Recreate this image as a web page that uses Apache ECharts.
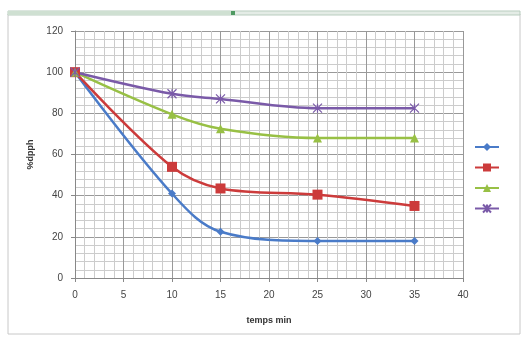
<!DOCTYPE html>
<html><head><meta charset="utf-8">
<script src="https://cdn.jsdelivr.net/npm/echarts@6/dist/echarts.min.js"></script>
<style>html,body{margin:0;padding:0;background:#fff}#c{width:528px;height:344px}</style>
</head><body><div id="c"></div>
<script>
const times = [0, 10, 15, 25, 35];
const serieBlue = [100, 41, 22.5, 18, 18];
const serieRed = [100, 54, 43.5, 40.5, 35];
const serieGreen = [100, 79.5, 72.5, 68, 68];
const seriePurple = [100, 89.5, 87, 82.5, 82.5];
const xTicks = [0, 5, 10, 15, 20, 25, 30, 35, 40];
const yTicks = [0, 20, 40, 60, 80, 100, 120];

const pair = arr => times.map((t, i) => [t, arr[i]]);
const crossPath = 'path://M0,0 L10,10 M10,0 L0,10 M5,0 L5,10';
const font = 'Liberation Sans';
function mk(name, data, color, symbol, size) {
  return {
    name: name, type: 'line', smooth: 0.35, data: pair(data),
    symbol: symbol, symbolSize: size,
    lineStyle: { color: color, width: 2.5 },
    itemStyle: { color: color, borderColor: color, borderWidth: symbol === crossPath ? 1.2 : 0 },
    z: 3
  };
}
const chart = echarts.init(document.getElementById('c'));
chart.setOption({
  animation: false,
  backgroundColor: '#fff',
  graphic: [
    { type: 'rect', shape: { x: 8, y: 14, width: 512, height: 320 }, style: { fill: 'none', stroke: '#c8c8c8', lineWidth: 1 }, z: -1 },
    { type: 'rect', shape: { x: 8, y: 11, width: 512, height: 4 }, style: { fill: '#e4ece6', stroke: '#b9cdbf', lineWidth: 1 }, z: -1 },
    { type: 'rect', shape: { x: 8, y: 11, width: 225, height: 4 }, style: { fill: '#cfe0d2', stroke: 'none' }, z: -1 },
    { type: 'rect', shape: { x: 231, y: 11, width: 4, height: 4 }, style: { fill: '#4f9a62' }, z: 0 }
  ],
  grid: { left: 75, right: 65, top: 31, bottom: 66 },
  legend: {
    orient: 'vertical', right: 23, top: 137, itemGap: 11.5, itemWidth: 24, itemHeight: 10,
    formatter: () => '',
    data: ['S1', 'S2', 'S3', 'S4']
  },
  xAxis: {
    type: 'value', min: 0, max: 40, interval: 5,
    name: 'temps min', nameLocation: 'middle', nameGap: 38,
    nameTextStyle: { fontFamily: font, fontWeight: 'bold', fontSize: 9, color: '#333' },
    axisLine: { show: true, lineStyle: { color: '#888' } },
    axisTick: { show: true, length: 4, lineStyle: { color: '#888' } },
    axisLabel: { fontFamily: font, fontSize: 10, color: '#444', margin: 12, formatter: v => xTicks.includes(v) ? String(v) : '' },
    splitLine: { show: true, lineStyle: { color: '#999', width: 1 } },
    minorTick: { show: false, splitNumber: 5 },
    minorSplitLine: { show: true, lineStyle: { color: '#cccccc', width: 1 } }
  },
  yAxis: {
    type: 'value', min: 0, max: 120, interval: 20,
    name: '%dpph', nameLocation: 'middle', nameGap: 38, nameRotate: 90,
    nameTextStyle: { fontFamily: font, fontWeight: 'bold', fontSize: 9, color: '#333' },
    axisLine: { show: true, lineStyle: { color: '#888' } },
    axisTick: { show: true, length: 4, lineStyle: { color: '#888' } },
    axisLabel: { fontFamily: font, fontSize: 10, color: '#444', margin: 12, formatter: v => yTicks.includes(v) ? String(v) : '' },
    splitLine: { show: true, lineStyle: { color: '#999', width: 1 } },
    minorTick: { show: false, splitNumber: 5 },
    minorSplitLine: { show: true, lineStyle: { color: '#cccccc', width: 1 } }
  },
  series: [
    mk('S1', serieBlue, '#4a7bc8', 'diamond', 8),
    mk('S2', serieRed, '#cc3b3b', 'rect', 10),
    mk('S3', serieGreen, '#98c045', 'triangle', 9),
    mk('S4', seriePurple, '#7a5aa8', crossPath, 9)
  ]
});
</script></body></html>
